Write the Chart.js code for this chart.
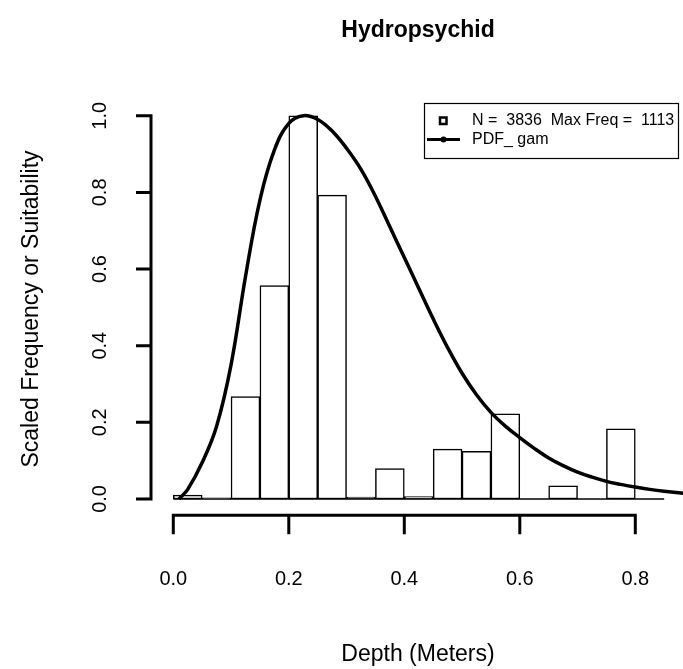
<!DOCTYPE html>
<html>
<head>
<meta charset="utf-8">
<title>Hydropsychid</title>
<script src="https://cdn.jsdelivr.net/npm/chart.js@4.4.1/dist/chart.umd.min.js"></script>
<style>
  html, body { margin: 0; padding: 0; background: #fff; }
  #wrap { width: 683px; height: 669px; }
</style>
</head>
<body>
<div id="wrap"><canvas id="hist-chart" width="683" height="669"></canvas></div>
<script>
// histogram bins (mid points, width 0.05 m) and scaled frequency
const binMids = [0.025, 0.075, 0.125, 0.175, 0.225, 0.275, 0.325, 0.375, 0.425,
  0.475, 0.525, 0.575, 0.625, 0.675, 0.725, 0.775, 0.825];
const scaledFreq = [0.01, 0.003, 0.267, 0.557, 1.0, 0.793, 0.005, 0.079, 0.006,
  0.13, 0.124, 0.222, 0, 0.034, 0, 0.183, 0];

// fitted gamma curve
const pdfX = [0.01, 0.025, 0.05, 0.075, 0.1, 0.125, 0.15, 0.175, 0.2, 0.225, 0.25,
  0.275, 0.3, 0.325, 0.35, 0.375, 0.4, 0.425, 0.45, 0.475, 0.5, 0.525, 0.55, 0.575,
  0.6, 0.625, 0.65, 0.675, 0.7, 0.725, 0.75, 0.775, 0.8, 0.825, 0.85, 0.875, 0.9];
const pdfY = [0, 0.025, 0.095, 0.19, 0.35, 0.58, 0.78, 0.91, 0.98, 1.0, 0.99,
  0.96, 0.915, 0.86, 0.79, 0.71, 0.63, 0.55, 0.47, 0.395, 0.328, 0.272, 0.226, 0.19,
  0.16, 0.132, 0.107, 0.087, 0.07, 0.057, 0.046, 0.038, 0.031, 0.025, 0.02, 0.016, 0.013];

const xTicks = [0, 0.2, 0.4, 0.6, 0.8];
const xTickLabels = ['0.0', '0.2', '0.4', '0.6', '0.8'];
const yTicks = [0, 0.2, 0.4, 0.6, 0.8, 1.0];
const yTickLabels = ['0.0', '0.2', '0.4', '0.6', '0.8', '1.0'];

const chartTitle = 'Hydropsychid';
const xTitle = 'Depth (Meters)';
const yTitle = 'Scaled Frequency or Suitability';
const legendLines = ['N =  3836  Max Freq =  1113', 'PDF_ gam'];

const baseFont = '"Liberation Sans", Arial, sans-serif';

// R-style axes, titles and legend drawn on top of the chart
const rDecor = {
  id: 'rDecor',
  afterDraw(chart) {
    const ctx = chart.ctx;
    const xs = chart.scales.x;
    const ys = chart.scales.y;
    const area = chart.chartArea;
    ctx.save();
    ctx.strokeStyle = '#000';
    ctx.fillStyle = '#000';
    ctx.lineCap = 'butt';

    // histogram base line
    ctx.lineWidth = 1.5;
    ctx.beginPath();
    ctx.moveTo(xs.getPixelForValue(0), ys.getPixelForValue(0));
    ctx.lineTo(xs.getPixelForValue(0.85), ys.getPixelForValue(0));
    ctx.stroke();

    // y axis
    const axX = area.left;
    ctx.lineWidth = 3;
    ctx.beginPath();
    ctx.moveTo(axX, ys.getPixelForValue(yTicks[0]));
    ctx.lineTo(axX, ys.getPixelForValue(yTicks[yTicks.length - 1]));
    yTicks.forEach((v) => {
      const py = ys.getPixelForValue(v);
      ctx.moveTo(axX + 1.5, py);
      ctx.lineTo(axX - 15, py);
    });
    ctx.stroke();
    ctx.font = '20px ' + baseFont;
    ctx.textAlign = 'center';
    ctx.textBaseline = 'middle';
    yTicks.forEach((v, i) => {
      ctx.save();
      ctx.translate(100, ys.getPixelForValue(v));
      ctx.rotate(-Math.PI / 2);
      ctx.fillText(yTickLabels[i], 0, 0);
      ctx.restore();
    });

    // x axis
    const axY = area.bottom + 1;
    ctx.beginPath();
    ctx.moveTo(xs.getPixelForValue(xTicks[0]), axY);
    ctx.lineTo(xs.getPixelForValue(xTicks[xTicks.length - 1]), axY);
    xTicks.forEach((v) => {
      const px = xs.getPixelForValue(v);
      ctx.moveTo(px, axY - 1.5);
      ctx.lineTo(px, axY + 19);
    });
    ctx.stroke();
    xTicks.forEach((v, i) => {
      ctx.fillText(xTickLabels[i], xs.getPixelForValue(v), 579);
    });

    // titles
    ctx.font = '23px ' + baseFont;
    ctx.fillText(xTitle, 418, 655);
    ctx.save();
    ctx.translate(32, 309);
    ctx.rotate(-Math.PI / 2);
    ctx.fillText(yTitle, 0, 0);
    ctx.restore();
    ctx.font = 'bold 23px ' + baseFont;
    ctx.fillText(chartTitle, 418, 31);

    // legend
    ctx.lineWidth = 1.2;
    ctx.strokeRect(424.5, 103.5, 254, 55);
    ctx.lineWidth = 2.5;
    ctx.strokeRect(440, 117.5, 6.5, 6.5);
    ctx.lineWidth = 3;
    ctx.beginPath();
    ctx.moveTo(427, 139.5);
    ctx.lineTo(460, 139.5);
    ctx.stroke();
    ctx.beginPath();
    ctx.arc(443.5, 139.5, 3, 0, Math.PI * 2);
    ctx.fill();
    ctx.font = '16px ' + baseFont;
    ctx.textAlign = 'left';
    ctx.fillText(legendLines[0], 472, 121);
    ctx.fillText(legendLines[1], 472, 140);
    ctx.restore();
  }
};

const ctx = document.getElementById('hist-chart').getContext('2d');
new Chart(ctx, {
  data: {
    datasets: [
      {
        type: 'line',
        label: legendLines[1],
        data: pdfX.map((x, i) => ({ x, y: pdfY[i] })),
        borderColor: '#000',
        borderWidth: 3.5,
        pointRadius: 0,
        tension: 0.4,
        fill: false,
        order: 0
      },
      {
        type: 'bar',
        label: legendLines[0],
        data: binMids.map((x, i) => ({ x, y: scaledFreq[i] })),
        backgroundColor: '#fff',
        borderColor: '#000',
        borderWidth: 1.5,
        borderSkipped: false,
        barPercentage: 1,
        categoryPercentage: 1,
        order: 1
      }
    ]
  },
  options: {
    responsive: false,
    animation: false,
    devicePixelRatio: 1,
    layout: { padding: { left: 151, top: 100.4, right: 0, bottom: 154.7 } },
    plugins: {
      legend: { display: false },
      title: { display: false },
      tooltip: { enabled: false }
    },
    scales: {
      x: { type: 'linear', display: false, offset: false, min: -0.0386, max: 0.8826 },
      y: { type: 'linear', display: false, min: -0.04, max: 1.04 }
    }
  },
  plugins: [rDecor]
});
</script>
</body>
</html>
